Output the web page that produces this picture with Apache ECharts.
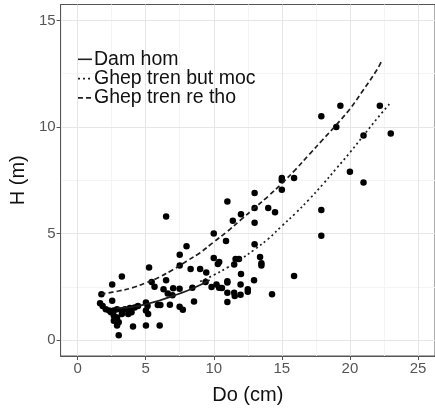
<!DOCTYPE html>
<html>
<head>
<meta charset="utf-8">
<script src="https://cdn.jsdelivr.net/npm/echarts@6/dist/echarts.min.js"></script>
<style>html,body{margin:0;padding:0;background:#fff}#c{width:435px;height:410px}</style>
</head>
<body>
<div id="c"></div>
<script>
// ---- data ----
const xTicks = [0, 5, 10, 15, 20, 25];
const yTicks = [0, 5, 10, 15];
const xMinor = [2.5, 7.5, 12.5, 17.5, 22.5];
const yMinor = [2.5, 7.5, 12.5];

const points = [
  [17.9,10.5],[19.3,11.0],[19.0,10.0],[22.2,11.0],[21.0,9.6],[23.0,9.7],[20.0,7.9],[21.0,7.4],
  [17.9,6.1],[17.9,4.9],[15.9,7.6],[15.9,3.0],[15.0,7.6],[15.0,7.5],[15.0,7.05],[14.5,6.0],
  [14.0,6.2],[13.0,6.9],[13.0,6.2],[13.0,5.5],[13.0,4.5],[11.0,6.5],[12.0,5.9],[11.4,5.6],
  [6.5,5.8],[10.0,5.0],[10.9,4.65],[8.0,4.4],[7.5,4.0],[7.5,3.5],[13.4,3.9],[13.5,3.6],
  [13.5,3.5],[10.0,3.85],[10.3,3.57],[10.4,3.66],[11.6,3.8],[11.85,3.8],[11.5,3.54],[5.25,3.4],
  [8.3,3.33],[9.0,3.33],[9.45,3.17],[12.0,3.1],[3.25,2.98],[11.0,2.76],[11.0,2.7],[12.96,2.8],
  [9.4,2.72],[6.5,2.8],[5.44,2.72],[2.54,2.61],[5.65,2.5],[6.31,2.38],[7.02,2.43],[7.49,2.41],
  [8.43,2.45],[9.84,2.49],[10.2,2.61],[10.39,2.45],[10.6,2.44],[11.97,2.61],[12.5,2.38],[12.5,2.27],
  [11.0,2.22],[11.5,2.22],[11.54,2.07],[11.97,2.12],[11.0,1.79],[14.28,2.15],[6.62,2.18],[6.97,2.1],
  [6.78,1.65],[7.49,1.56],[7.73,1.42],[8.55,1.81],[5.02,1.76],[5.14,1.6],[5.02,1.38],[5.89,1.64],
  [6.08,1.64],[5.18,1.22],[4.19,1.53],[4.43,1.6],[1.75,2.15],[2.54,1.84],[1.65,1.73],[1.84,1.6],
  [2.07,1.45],[2.31,1.38],[2.66,1.38],[2.9,1.45],[3.25,1.38],[3.48,1.45],[3.84,1.5],[2.66,1.14],
  [2.9,1.06],[2.66,0.91],[3.02,0.83],[2.9,0.68],[3.25,1.22],[3.72,1.22],[3.96,1.3],[4.07,0.63],
  [3.02,0.22],[5.02,0.68],[6.03,0.68],[2.8,1.0],[2.45,1.3]
];

const damHom = [[2.9,1.5],[4,1.55],[5,1.68],[6,1.85],[7,2.07],[8,2.3],[9,2.58],[9.7,2.82]];
const butMoc = [[9.0,2.75],[10,3.05],[11,3.4],[12,3.8],[13,4.25],[14,4.75],[15,5.35],[16,5.95],
  [17,6.6],[18,7.3],[19,8.05],[20,8.8],[21,9.6],[22,10.4],[23,11.15]];
const reTho = [[1.7,2.15],[3,2.3],[4,2.45],[5,2.68],[6,2.95],[7,3.3],[8,3.7],[9,4.1],[10,4.6],
  [11,5.1],[12,5.65],[13,6.2],[14,6.75],[15,7.35],[16,8.0],[17,8.7],[18,9.4],[19,10.1],
  [20,10.85],[21,11.75],[22,12.7],[22.3,13.05]];

const names = ['Dam hom', 'Ghep tren but moc', 'Ghep tren re tho'];
const dashTypes = ['solid', [2, 3], [5, 3]];

const FONT = 'Liberation Sans, Arial, sans-serif';
const chart = echarts.init(document.getElementById('c'), null, {renderer: 'canvas'});

const gridLines = [];
xMinor.forEach(v => gridLines.push({xAxis: v, lineStyle: {color: '#F4F4F4', width: 1, type: 'solid'}}));
yMinor.forEach(v => gridLines.push({yAxis: v, lineStyle: {color: '#F4F4F4', width: 1, type: 'solid'}}));
xTicks.forEach(v => gridLines.push({xAxis: v, lineStyle: {color: '#E6E6E6', width: 1, type: 'solid'}}));
yTicks.forEach(v => gridLines.push({yAxis: v, lineStyle: {color: '#E6E6E6', width: 1, type: 'solid'}}));

const lineStyleBase = {color: '#1e1e1e', width: 1.7};

// legend drawn as graphic (key line + real text)
const legendGraphic = [];
const legTop = 59.3, legStep = 19.3;
names.forEach((n, i) => {
  const y = legTop + i * legStep;
  legendGraphic.push({type: 'line', shape: {x1: 78, y1: y, x2: 92, y2: y},
    style: {stroke: '#222', lineWidth: 1.6, lineDash: dashTypes[i] === 'solid' ? null : dashTypes[i]}, z: 20});
  legendGraphic.push({type: 'text', x: 94, y: y,
    style: {text: n, fontSize: 19.5, fontFamily: FONT, fill: '#111', verticalAlign: 'middle', align: 'left'}, z: 20});
});

chart.setOption({
  animation: false,
  backgroundColor: '#fff',
  textStyle: {fontFamily: FONT},
  grid: {left: 51.3, right: -5.4, top: 4.5, bottom: 49.1, show: true, borderColor: '#555', borderWidth: 1, backgroundColor: 'transparent'},
  xAxis: {
    type: 'value', min: -1.25, max: 26.25,
    name: 'Do (cm)', nameLocation: 'middle', nameGap: 29,
    nameTextStyle: {fontSize: 20, color: '#111', fontFamily: FONT},
    axisLine: {show: true, onZero: false, lineStyle: {color: '#555', width: 1}},
    axisTick: {show: true, customValues: xTicks, length: 4, lineStyle: {color: '#555'}},
    axisLabel: {customValues: xTicks, fontSize: 15, color: '#555', margin: 5, fontFamily: FONT},
    splitLine: {show: false}
  },
  yAxis: {
    type: 'value', min: -0.75, max: 15.75,
    name: 'H (m)', nameLocation: 'middle', nameGap: 30, nameRotate: 90,
    nameTextStyle: {fontSize: 20, color: '#111', fontFamily: FONT},
    axisLine: {show: true, onZero: false, lineStyle: {color: '#555', width: 1}},
    axisTick: {show: true, customValues: yTicks, length: 4, lineStyle: {color: '#555'}},
    axisLabel: {customValues: yTicks, fontSize: 15, color: '#555', margin: 5, fontFamily: FONT},
    splitLine: {show: false}
  },
  graphic: legendGraphic,
  series: [
    {type: 'scatter', name: 'grid', data: [], silent: true, z: 0,
     markLine: {silent: true, z: 0, symbol: 'none', label: {show: false}, animation: false, data: gridLines}},
    {type: 'scatter', name: 'points', data: points, symbol: 'circle', symbolSize: 6.5,
     itemStyle: {color: '#000', opacity: 1}, z: 8},
    {type: 'line', name: names[0], data: damHom, smooth: 0.4, symbol: 'none',
     lineStyle: Object.assign({}, lineStyleBase, {type: dashTypes[0]}), z: 9},
    {type: 'line', name: names[1], data: butMoc, smooth: 0.4, symbol: 'none',
     lineStyle: Object.assign({}, lineStyleBase, {type: dashTypes[1]}), z: 9},
    {type: 'line', name: names[2], data: reTho, smooth: 0.4, symbol: 'none',
     lineStyle: Object.assign({}, lineStyleBase, {type: dashTypes[2]}), z: 9}
  ]
});
</script>
</body>
</html>
